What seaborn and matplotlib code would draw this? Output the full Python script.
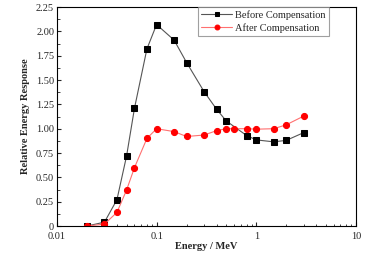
import pandas as pd
import matplotlib.pyplot as plt
import seaborn as sns
from matplotlib.ticker import FixedLocator, MultipleLocator, FuncFormatter

# energies (MeV) and relative response
energy_before = [0.02, 0.03, 0.04, 0.05, 0.06, 0.08, 0.1, 0.15, 0.2, 0.3, 0.4, 0.5, 0.8, 1, 1.5, 2, 3]
before = [0.0, 0.04, 0.27, 0.72, 1.21, 1.82, 2.07, 1.91, 1.68, 1.38, 1.20, 1.08, 0.93, 0.885, 0.865, 0.88, 0.96]

energy_after = [0.02, 0.03, 0.04, 0.05, 0.06, 0.08, 0.1, 0.15, 0.2, 0.3, 0.4, 0.5, 0.6, 0.8, 1, 1.5, 2, 3]
after = [0.0, 0.02, 0.14, 0.37, 0.60, 0.90, 1.00, 0.97, 0.92, 0.935, 0.98, 1.00, 1.00, 1.00, 0.995, 1.00, 1.04, 1.13]

df_b = pd.DataFrame({'energy': energy_before, 'resp': before})
df_a = pd.DataFrame({'energy': energy_after, 'resp': after})

sns.set_style("ticks")
plt.rcParams['font.family'] = ['Liberation Serif', 'DejaVu Serif']
plt.rcParams['xtick.direction'] = 'in'
plt.rcParams['ytick.direction'] = 'in'

fig = plt.figure(figsize=(3.77, 2.61), dpi=100)
ax = fig.add_axes([0.151, 0.134, 0.793, 0.839])

sns.lineplot(data=df_b, x='energy', y='resp', ax=ax, color='#555555', lw=0.8,
             marker='s', markersize=3.8, markerfacecolor='black', markeredgecolor='black',
             label='Before Compensation')
sns.lineplot(data=df_a, x='energy', y='resp', ax=ax, color='#ff7070', lw=0.8,
             marker='o', markersize=4.4, markerfacecolor='red', markeredgecolor='red',
             label='After Compensation')

ax.set_xscale('log')
ax.set_xlim(0.01, 10)
ax.set_ylim(0, 2.25)
ax.yaxis.set_major_locator(MultipleLocator(0.25))
ax.yaxis.set_minor_locator(MultipleLocator(0.125))
ax.yaxis.set_major_formatter(FuncFormatter(lambda v, p: '0' if v == 0 else f'{v:.2f}'))
ax.xaxis.set_major_locator(FixedLocator([0.01, 0.1, 1, 10]))
ax.xaxis.set_major_formatter(FuncFormatter(lambda v, p: f'{v:g}'))

ax.tick_params(axis='both', which='major', labelsize=7.5, length=3, width=0.8)
ax.tick_params(axis='y', which='major', pad=2)
ax.tick_params(axis='x', which='major', pad=4)
ax.tick_params(axis='both', which='minor', length=1.8, width=0.6)
ax.tick_params(top=False, right=False, which='both')
for s in ax.spines.values():
    s.set_linewidth(0.8)
    s.set_color('black')

ax.set_xlabel('Energy / MeV', fontsize=7.5, fontweight='bold', labelpad=1)
ax.set_ylabel('Relative Energy Response', fontsize=7.5, fontweight='bold', labelpad=4)

leg = ax.legend(loc='upper right', bbox_to_anchor=(0.91, 1.0), fontsize=7.5, frameon=True,
                fancybox=False, edgecolor='#888888', borderpad=0.3, handlelength=3.0,
                labelspacing=0.3, borderaxespad=0.0, handletextpad=0.3, markerscale=0.8)
leg.get_frame().set_linewidth(0.8)

fig.savefig('out.png', dpi=100)
